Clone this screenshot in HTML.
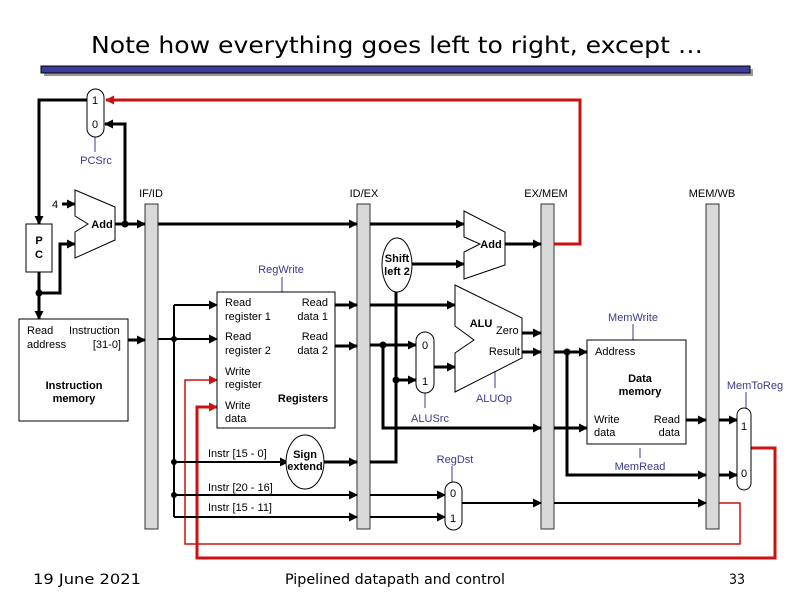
<!DOCTYPE html>
<html><head><meta charset="utf-8"><style>
html,body{margin:0;padding:0;background:#fff;}
svg{display:block;font-family:"Liberation Sans",Arial,sans-serif;}
.t{font-size:11px;fill:#000;}
.b{font-size:11px;font-weight:bold;fill:#000;}
.c{font-size:11px;fill:#3a3a8c;}
.k{stroke:#000;fill:none;stroke-width:3;}
.n{stroke:#000;fill:none;stroke-width:2;}
.bl{stroke:#3a3a8c;fill:none;stroke-width:1;}
.bar{fill:#d9d9d9;stroke:#333;stroke-width:1;}
.box{fill:#fff;stroke:#000;stroke-width:1;}
</style></head><body>
<svg width="792" height="612" viewBox="0 0 792 612" xmlns="http://www.w3.org/2000/svg">
<defs>
<marker id="a" markerUnits="userSpaceOnUse" markerWidth="9" markerHeight="9" refX="8" refY="4.5" orient="auto"><path d="M0,0 L9,4.5 L0,9 z" fill="#000"/></marker>
<marker id="r" markerUnits="userSpaceOnUse" markerWidth="9" markerHeight="9" refX="8" refY="4.5" orient="auto"><path d="M0,0 L9,4.5 L0,9 z" fill="#cc1111"/></marker>
</defs>
<!-- title -->
<text x="397" y="53" text-anchor="middle" font-family="DejaVu Sans Condensed, DejaVu Sans, sans-serif" font-size="23" textLength="612" lengthAdjust="spacingAndGlyphs">Note how everything goes left to right, except …</text>
<rect x="44" y="69" width="709" height="7" fill="#999"/>
<rect x="41" y="66" width="709" height="7" fill="#3c3c9c" stroke="#000" stroke-width="1"/>

<!-- pipeline bars -->
<rect class="bar" x="145" y="204" width="13" height="325"/>
<rect class="bar" x="357" y="204" width="13" height="325"/>
<rect class="bar" x="541" y="204" width="13" height="325"/>
<rect class="bar" x="706" y="204" width="13" height="325"/>
<text class="t" x="151" y="197" text-anchor="middle">IF/ID</text>
<text class="t" x="364" y="197" text-anchor="middle">ID/EX</text>
<text class="t" x="546" y="197" text-anchor="middle">EX/MEM</text>
<text class="t" x="712" y="197" text-anchor="middle">MEM/WB</text>

<!-- red feedback -->
<path d="M554,244 H580 V100 H106" stroke="#cc1111" stroke-width="3" fill="none" marker-end="url(#r)"/>
<path d="M751,448 H775 V558 H197 V407 H217" stroke="#cc1111" stroke-width="3" fill="none" marker-end="url(#r)"/>
<path d="M719,503 H740 V544 H185 V380 H217" stroke="#cc1111" stroke-width="1.5" fill="none" marker-end="url(#r)"/>

<!-- black wires -->
<path class="k" d="M87,100 H39 V224" marker-end="url(#a)"/>
<path class="k" d="M39,272 V319" marker-end="url(#a)"/>
<path class="k" d="M39,293 H60 V244 H75" marker-end="url(#a)"/>
<path class="k" d="M62,204 H75" marker-end="url(#a)"/>
<path class="k" d="M115,224 H145" marker-end="url(#a)"/>
<path class="k" d="M125,224 V124 H105" marker-end="url(#a)"/>
<path class="k" d="M158,224 H357" marker-end="url(#a)"/>
<path class="k" d="M370,224 H464" marker-end="url(#a)"/>
<path class="k" d="M128,340 H145" stroke-width="4" marker-end="url(#a)"/>
<path class="n" d="M158,339 H174 M174,305 V517"/>
<path class="n" d="M174,305 H217" marker-end="url(#a)"/>
<path class="n" d="M174,339 H217" marker-end="url(#a)"/>
<path class="n" d="M174,462 H288" marker-end="url(#a)"/>
<path class="n" d="M174,495 H357" marker-end="url(#a)"/>
<path class="n" d="M174,517 H357" marker-end="url(#a)"/>
<path class="k" d="M335,305 H357" stroke-width="4" marker-end="url(#a)"/>
<path class="k" d="M370,305 H455" marker-end="url(#a)"/>
<path class="k" d="M335,346 H357" stroke-width="4" marker-end="url(#a)"/>
<path class="k" d="M370,345 H416" marker-end="url(#a)"/>
<path class="k" d="M383,345 V428 H541" marker-end="url(#a)"/>
<path class="k" d="M554,428 H587" marker-end="url(#a)"/>
<path class="k" d="M324,462 H357" marker-end="url(#a)"/>
<path class="k" d="M370,462 H396 V292"/>
<path class="k" d="M396,380 H416" marker-end="url(#a)"/>
<path class="k" d="M412,264 H464" marker-end="url(#a)"/>
<path class="k" d="M505,244 H541" marker-end="url(#a)"/>
<path class="k" d="M434,367 H455" marker-end="url(#a)"/>
<path class="k" d="M522,333 H541" marker-end="url(#a)"/>
<path class="k" d="M522,352 H541" marker-end="url(#a)"/>
<path class="k" d="M554,352 H587" marker-end="url(#a)"/>
<path class="k" d="M567,352 V475 H706" marker-end="url(#a)"/>
<path class="k" d="M719,475 H737" marker-end="url(#a)"/>
<path class="k" d="M686,420 H706" marker-end="url(#a)"/>
<path class="k" d="M719,420 H737" marker-end="url(#a)"/>
<path class="n" d="M370,495 H445" marker-end="url(#a)"/>
<path class="n" d="M370,517 H445" marker-end="url(#a)"/>
<path class="n" d="M462,503 H541" marker-end="url(#a)"/>
<path class="n" d="M554,503 H706" marker-end="url(#a)"/>
<g fill="#000">
<circle cx="39" cy="293" r="3.5"/><circle cx="125" cy="224" r="3.5"/>
<circle cx="174" cy="339" r="3"/><circle cx="174" cy="462" r="3"/><circle cx="174" cy="495" r="3"/>
<circle cx="383" cy="345" r="3.5"/><circle cx="396" cy="380" r="3.5"/><circle cx="567" cy="352" r="3.5"/>
</g>

<!-- control lines -->
<path class="bl" d="M95,137 V152 M282,277 V292 M425,393 V408 M495,372 V388 M633,324 V340 M640,448 V458 M452,466 V482 M746,392 V408"/>
<text class="c" x="96" y="164" text-anchor="middle">PCSrc</text>
<text class="c" x="281" y="273" text-anchor="middle">RegWrite</text>
<text class="c" x="430" y="422" text-anchor="middle">ALUSrc</text>
<text class="c" x="494" y="402" text-anchor="middle">ALUOp</text>
<text class="c" x="633" y="321" text-anchor="middle">MemWrite</text>
<text class="c" x="640" y="470" text-anchor="middle">MemRead</text>
<text class="c" x="455" y="463" text-anchor="middle">RegDst</text>
<text class="c" x="755" y="389" text-anchor="middle">MemToReg</text>

<!-- muxes -->
<rect class="box" x="87" y="89" width="17" height="48" rx="8.5"/>
<text class="t" x="95" y="104" text-anchor="middle">1</text><text class="t" x="95" y="128" text-anchor="middle">0</text>
<rect class="box" x="416" y="332" width="18" height="61" rx="9"/>
<text class="t" x="425" y="349" text-anchor="middle">0</text><text class="t" x="425" y="385" text-anchor="middle">1</text>
<rect class="box" x="445" y="482" width="17" height="48" rx="8.5"/>
<text class="t" x="453" y="497" text-anchor="middle">0</text><text class="t" x="453" y="522" text-anchor="middle">1</text>
<rect class="box" x="737" y="408" width="14" height="82" rx="7"/>
<text class="t" x="744" y="430" text-anchor="middle">1</text><text class="t" x="744" y="477" text-anchor="middle">0</text>

<!-- PC -->
<rect class="box" x="26" y="224" width="26" height="48"/>
<text class="b" x="39" y="244" text-anchor="middle">P</text>
<text class="b" x="39" y="258" text-anchor="middle">C</text>
<text class="t" x="55" y="208" text-anchor="middle">4</text>
<!-- PC adder -->
<path class="box" d="M75,190 L115,207 L115,240 L75,258 L75,232 L88,224 L75,216 Z"/>
<text class="b" x="102" y="228" text-anchor="middle">Add</text>

<!-- instruction memory -->
<rect class="box" x="19" y="319" width="109" height="102"/>
<text class="t" x="27" y="334">Read</text><text class="t" x="27" y="348">address</text>
<text class="t" x="69" y="334">Instruction</text><text class="t" x="121" y="348" text-anchor="end">[31-0]</text>
<text class="b" x="74" y="389" text-anchor="middle">Instruction</text>
<text class="b" x="74" y="402" text-anchor="middle">memory</text>

<!-- registers -->
<rect class="box" x="217" y="292" width="118" height="136"/>
<text class="t" x="225" y="306">Read</text><text class="t" x="225" y="320">register 1</text>
<text class="t" x="328" y="306" text-anchor="end">Read</text><text class="t" x="328" y="320" text-anchor="end">data 1</text>
<text class="t" x="225" y="340">Read</text><text class="t" x="225" y="354">register 2</text>
<text class="t" x="328" y="340" text-anchor="end">Read</text><text class="t" x="328" y="354" text-anchor="end">data 2</text>
<text class="t" x="225" y="375">Write</text><text class="t" x="225" y="388">register</text>
<text class="t" x="225" y="409">Write</text><text class="t" x="225" y="422">data</text>
<text class="b" x="303" y="402" text-anchor="middle">Registers</text>

<!-- sign extend -->
<ellipse class="box" cx="305" cy="462" rx="19" ry="27"/>
<text class="b" x="305" y="458" text-anchor="middle">Sign</text>
<text class="b" x="305" y="470" text-anchor="middle">extend</text>
<text class="t" x="208" y="457">Instr [15 - 0]</text>
<text class="t" x="208" y="491">Instr [20 - 16]</text>
<text class="t" x="208" y="511">Instr [15 - 11]</text>

<!-- shift left 2 -->
<ellipse class="box" cx="397" cy="265" rx="15" ry="27"/>
<text class="b" x="397" y="262" text-anchor="middle">Shift</text>
<text class="b" x="397" y="275" text-anchor="middle">left 2</text>

<!-- branch adder -->
<path class="box" d="M464,211 L505,232 L505,265 L464,279 L464,252 L480,244 L464,237 Z"/>
<text class="b" x="491" y="248" text-anchor="middle">Add</text>

<!-- ALU -->
<path class="box" d="M455,285 L522,318 L522,358 L455,392 L455,353 L474,340 L455,326 Z"/>
<text class="b" x="481" y="327" text-anchor="middle">ALU</text>
<text class="t" x="496" y="334">Zero</text>
<text class="t" x="520" y="355" text-anchor="end">Result</text>

<!-- data memory -->
<rect class="box" x="587" y="340" width="99" height="104"/>
<text class="t" x="595" y="355">Address</text>
<text class="b" x="640" y="382" text-anchor="middle">Data</text>
<text class="b" x="640" y="395" text-anchor="middle">memory</text>
<text class="t" x="594" y="423">Write</text><text class="t" x="594" y="436">data</text>
<text class="t" x="680" y="423" text-anchor="end">Read</text><text class="t" x="680" y="436" text-anchor="end">data</text>

<!-- footer -->
<g font-family="DejaVu Sans Condensed, DejaVu Sans, sans-serif" font-size="14">
<text x="33" y="584" textLength="108" lengthAdjust="spacingAndGlyphs">19 June 2021</text>
<text x="285" y="584" textLength="220" lengthAdjust="spacingAndGlyphs">Pipelined datapath and control</text>
<text x="729" y="584">33</text>
</g>
</svg>
</body></html>
